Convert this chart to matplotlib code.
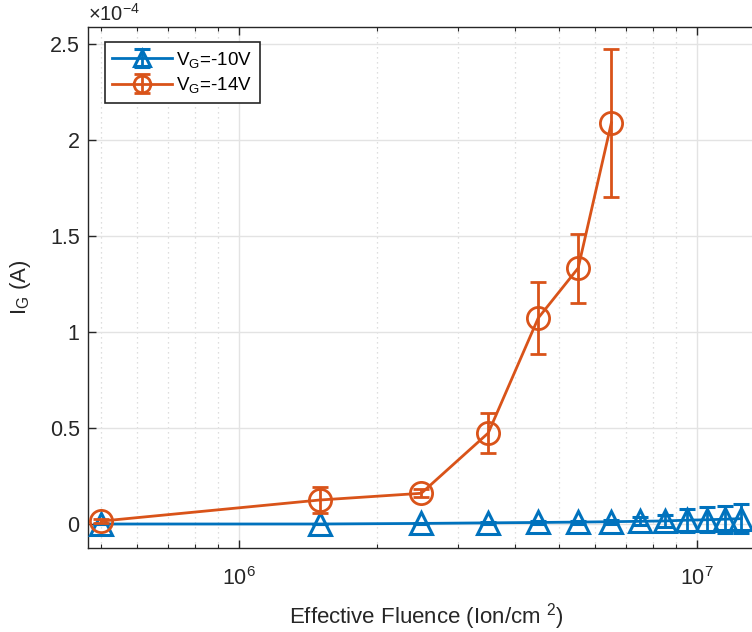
import numpy as np
import matplotlib
matplotlib.use("Agg")
import matplotlib.pyplot as plt
from matplotlib.ticker import LogLocator, FixedLocator, FuncFormatter, NullFormatter

plt.rcParams['font.family'] = ['Liberation Sans', 'DejaVu Sans']
plt.rcParams['mathtext.fontset'] = 'custom'
plt.rcParams['mathtext.rm'] = 'Liberation Sans'
plt.rcParams['mathtext.it'] = 'Liberation Sans'

# data (fluence in ion/cm^2, gate current in A)
fluence_10 = [5e5, 1.5e6, 2.5e6, 3.5e6, 4.5e6, 5.5e6, 6.5e6, 7.5e6, 8.5e6, 9.5e6, 10.5e6, 11.5e6, 12.5e6]
ig_10 = [0.0, 0.0, 0.003e-4, 0.006e-4, 0.008e-4, 0.010e-4, 0.012e-4, 0.014e-4, 0.016e-4,
         0.020e-4, 0.022e-4, 0.025e-4, 0.028e-4]
err_10 = [0.002e-4, 0.002e-4, 0.003e-4, 0.004e-4, 0.006e-4, 0.008e-4, 0.01e-4, 0.02e-4, 0.03e-4,
          0.06e-4, 0.065e-4, 0.07e-4, 0.075e-4]

fluence_14 = [5e5, 1.5e6, 2.5e6, 3.5e6, 4.5e6, 5.5e6, 6.5e6]
ig_14 = [0.015e-4, 0.125e-4, 0.16e-4, 0.474e-4, 1.073e-4, 1.333e-4, 2.09e-4]
err_14 = [0.01e-4, 0.07e-4, 0.02e-4, 0.105e-4, 0.19e-4, 0.18e-4, 0.385e-4]

blue = '#0072BD'
orange = '#D95319'
axcol = '#262626'

fig = plt.figure(figsize=(7.52, 6.32), dpi=100)
ax = fig.add_axes([88/752, 1 - 548/632, 676/752, (548 - 27)/632])

ax.errorbar(fluence_10, ig_10, yerr=err_10, color=blue, marker='^', markersize=16,
            markerfacecolor='none', markeredgewidth=2.2, linewidth=2.0, elinewidth=2.0,
            capsize=6, capthick=2.0, label=r'V$_\mathregular{G}$=-10V', zorder=3)
ax.errorbar(fluence_14, ig_14, yerr=err_14, color=orange, marker='o', markersize=16,
            markerfacecolor='none', markeredgewidth=2.0, linewidth=2.0, elinewidth=2.0,
            capsize=6, capthick=2.0, label=r'V$_\mathregular{G}$=-14V', zorder=4)

ax.set_xscale('log')
ax.set_xlim(4.68e5, 1.4e7)
ax.set_ylim(-0.125e-4, 2.589e-4)

ax.yaxis.set_major_locator(FixedLocator([0, 0.5e-4, 1e-4, 1.5e-4, 2e-4, 2.5e-4]))
ax.yaxis.set_major_formatter(FuncFormatter(lambda v, p: '%g' % round(v / 1e-4, 3)))
ax.xaxis.set_major_locator(LogLocator(base=10, numticks=10))
ax.xaxis.set_minor_locator(LogLocator(base=10, subs=np.arange(2, 10), numticks=20))
ax.xaxis.set_minor_formatter(NullFormatter())

ax.grid(True, which='major', axis='both', color='#e3e3e3', linewidth=1.0, linestyle='-', zorder=0)
ax.grid(True, which='minor', axis='x', color='#d4d4d4', linewidth=0.9, linestyle=(0, (1, 3)), zorder=0)
ax.set_axisbelow(True)

ax.tick_params(which='both', direction='in', top=True, right=True, colors=axcol,
               labelsize=15.5, labelcolor=axcol)
ax.tick_params(which='major', length=6, width=1.0)
ax.tick_params(which='minor', length=3, width=0.8)
ax.tick_params(axis='x', which='major', pad=14)
ax.tick_params(axis='y', which='major', pad=6)
for s in ax.spines.values():
    s.set_color(axcol)
    s.set_linewidth(1.0)

ax.set_xlabel(r'Effective Fluence (Ion/cm $^\mathregular{2}$)', fontsize=16, color=axcol, labelpad=8)
ax.set_ylabel(r'I$_\mathregular{G}$ (A)', fontsize=16, color=axcol, labelpad=12)

fig.text(88/752, 1 - 25/632, r'$\times\mathregular{10^{-4}}$', fontsize=14.5, color=axcol,
         ha='left', va='bottom')

leg = ax.legend(loc='upper left', bbox_to_anchor=(0.025, 0.971), borderaxespad=0,
                fancybox=False, framealpha=1, edgecolor=axcol, fontsize=13.5,
                handlelength=3.2, markerscale=0.75, borderpad=0.4, labelspacing=0.3,
                handletextpad=0.2)
leg.get_frame().set_linewidth(1.2)

fig.savefig('out.png', dpi=100)
